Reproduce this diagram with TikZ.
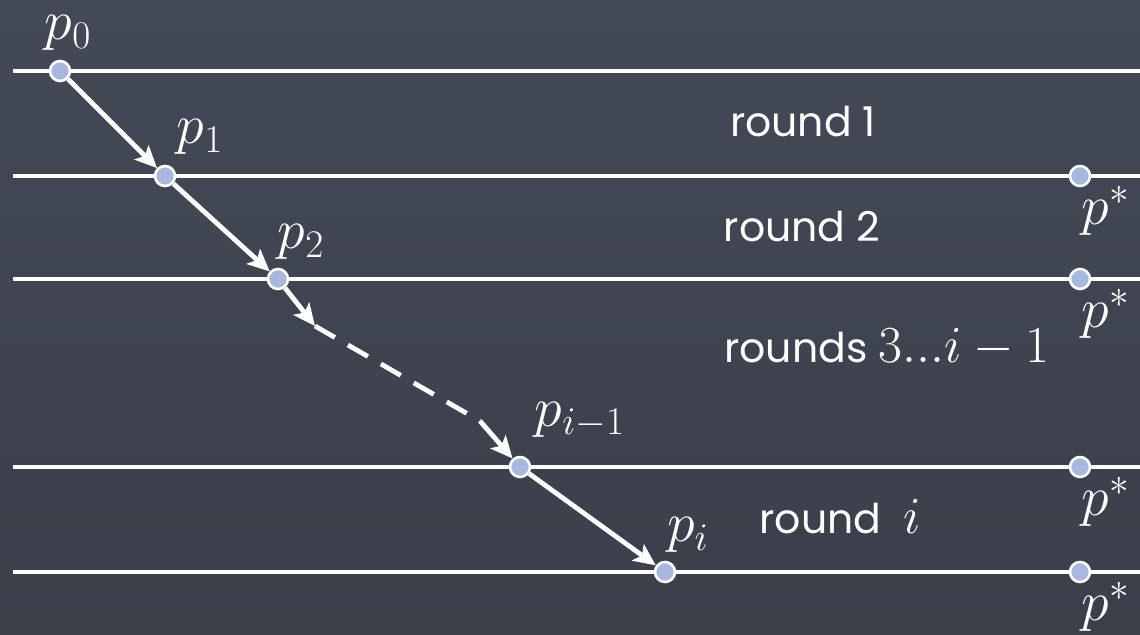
\RequirePackage{fix-cm}
\documentclass[tikz,border=0pt]{standalone}
\usepackage{fontspec}
\setsansfont{Poppins}
\usepackage{xcolor}
\definecolor{slate}{HTML}{434956}
\definecolor{slatedark}{HTML}{3A3F4A}
\definecolor{dotblue}{HTML}{A8B8DC}
\usepackage{tikz}
\usetikzlibrary{arrows.meta, positioning}

\begin{document}
\begin{tikzpicture}[
  x=0.5pt, y=-0.5pt,
  every node/.style={text=white},
  roundline/.style={white, line width=2.4pt},
  pnode/.style={circle, fill=dotblue, draw=white, line width=1.3pt,
                minimum size=10pt, inner sep=0pt},
  plabel/.style={font=\fontsize{28}{32}\selectfont, inner sep=0pt},
  roundtext/.style={font=\sffamily\fontsize{20.5}{24}\selectfont, inner sep=0pt},
  moveline/.style={white, line width=2.4pt, -{Stealth[length=11pt, width=10pt, inset=2.5pt]}},
  movedash/.style={white, line width=2.4pt, dash pattern=on 11.5pt off 7.5pt}
]
  % Board
  \useasboundingbox (0,0) rectangle (1140,634);
  \shade[top color=slate, bottom color=slatedark] (0,0) rectangle (1140,634);

  % Round boundaries
  \foreach \ly in {71,176,279,467,572}
    \draw[roundline] (13,\ly) -- (1140,\ly);

  % Points on the boundaries
  \node[pnode] (p0) at (60,71) {};
  \node[pnode] (p1) at (165,176) {};
  \node[pnode] (p2) at (278,279) {};
  \node[pnode] (pim) at (520,467) {};
  \node[pnode] (pi) at (665,572) {};
  \coordinate (bendA) at (315,326);
  \coordinate (bendB) at (480,421);

  % Optimum on each later boundary
  \foreach \ly [count=\k] in {176,279,467,572} {
    \node[pnode] (ps\k) at (1080,\ly) {};
    \node[plabel] (lps\k) at (1106,\ly+35) {$p^*$};
  }

  % Labels of the points
  \node[plabel] (lp0) at (68,33) {$p_0$};
  \node[plabel] (lp1) at (200,137) {$p_1$};
  \node[plabel] (lp2) at (301,242) {$p_2$};
  \node[plabel] (lpim) at (580,420) {$p_{i-1}$};
  \node[plabel] (lpi) at (688,535) {$p_i$};

  % Moves
  \draw[moveline] (p0) -- (p1);
  \draw[moveline] (p1) -- (p2);
  \draw[moveline] (p2) -- (bendA);
  \draw[movedash] (bendA) -- (bendB);
  \draw[moveline] (bendB) -- (pim);
  \draw[moveline] (pim) -- (pi);

  % Round names
  \node[roundtext] (r1) at (803,122) {round 1};
  \node[roundtext] (r2) at (802,227) {round 2};
  \node[roundtext] (r3) at (887,348) {rounds {\fontsize{26}{30}\selectfont$3...i-1$}};
  \node[roundtext] (ri) at (840,517) {round\ \ {\fontsize{26}{30}\selectfont$i$}};
\end{tikzpicture}
\end{document}
